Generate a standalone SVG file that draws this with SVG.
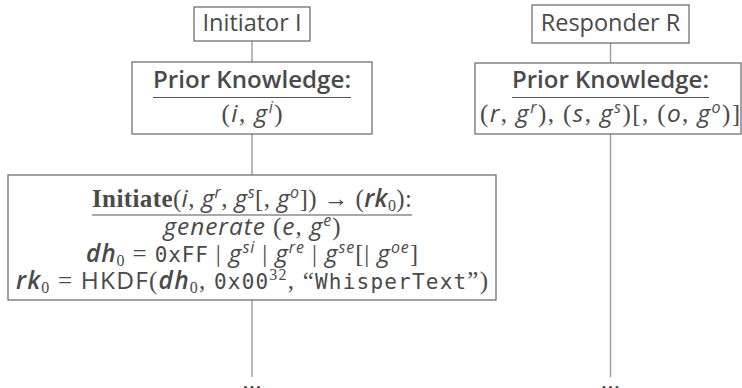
<svg xmlns="http://www.w3.org/2000/svg" width="742" height="388" viewBox="0 0 742 388">
  <style>
    .box { fill: #ffffff; stroke: #707070; stroke-width: 1.3; }
    .rule { stroke: #555555; stroke-width: 1.2; }
    .wire { stroke: #9a9a9a; stroke-width: 1.4; fill: none; }
    text { fill: #4a4a4a; font-family: "Open Sans", "Noto Sans", sans-serif; font-size: 24.5px; }
    .lbl { font-size: 23.5px; }
    .hd { font-weight: 600; font-size: 23.5px; }
    .b { font-family: "Liberation Serif", serif; font-weight: bold; font-size: 25px; }
    .s { font-family: "Liberation Serif", serif; font-size: 25px; }
    .m { font-style: italic; }
    .mb { font-style: italic; font-weight: 600; }
    .t { font-family: "DejaVu Sans Mono", "Liberation Mono", monospace; font-size: 21px; }
    .sup { font-size: 16px; }
  </style>

  <!-- lifelines -->
  <g id="connectors">
    <line class="wire" x1="252" y1="41" x2="252" y2="62"/>
    <line class="wire" x1="252" y1="134" x2="252" y2="175"/>
    <line class="wire" x1="252" y1="300" x2="252" y2="377"/>
    <line class="wire" x1="610.5" y1="43" x2="610.5" y2="63"/>
    <line class="wire" x1="610.5" y1="134" x2="610.5" y2="377"/>
  </g>

  <g id="initiator">
    <rect class="box" x="194" y="7" width="116" height="34"/>
    <text class="lbl" x="252" y="30.5" text-anchor="middle">Initiator I</text>
  </g>

  <g id="responder">
    <rect class="box" x="532" y="5" width="157" height="38"/>
    <text class="lbl" x="610.5" y="30.5" text-anchor="middle">Responder R</text>
  </g>

  <g id="initiator-knowledge">
    <rect class="box" x="132" y="62" width="240" height="72"/>
    <text class="hd" x="252" y="88" text-anchor="middle" textLength="198" lengthAdjust="spacingAndGlyphs">Prior Knowledge:</text>
    <line class="rule" x1="153" y1="97.5" x2="351" y2="97.5"/>
    <text x="252" y="122" text-anchor="middle" textLength="61"><tspan class="s">(</tspan><tspan class="m">i</tspan><tspan class="s">, </tspan><tspan class="m">g</tspan><tspan class="m sup" dy="-9">i</tspan><tspan class="s" dy="9">)</tspan></text>
  </g>

  <g id="responder-knowledge">
    <rect class="box" x="475" y="63" width="266" height="71"/>
    <text class="hd" x="610.5" y="88" text-anchor="middle" textLength="197" lengthAdjust="spacingAndGlyphs">Prior Knowledge:</text>
    <line class="rule" x1="512" y1="97.5" x2="709" y2="97.5"/>
    <text x="610" y="122" text-anchor="middle" textLength="260"><tspan class="s">(</tspan><tspan class="m">r</tspan><tspan class="s">, </tspan><tspan class="m">g</tspan><tspan class="m sup" dy="-9">r</tspan><tspan class="s" dy="9">), (</tspan><tspan class="m">s</tspan><tspan class="s">, </tspan><tspan class="m">g</tspan><tspan class="m sup" dy="-9">s</tspan><tspan class="s" dy="9">)[, (</tspan><tspan class="m">o</tspan><tspan class="s">, </tspan><tspan class="m">g</tspan><tspan class="m sup" dy="-9">o</tspan><tspan class="s" dy="9">)]</tspan></text>
  </g>

  <g id="initiate">
    <rect class="box" x="8" y="175" width="488" height="125"/>
    <text x="252" y="207" text-anchor="middle" textLength="320"><tspan class="b">Initiate</tspan><tspan class="s">(</tspan><tspan class="m">i</tspan><tspan class="s">, </tspan><tspan class="m">g</tspan><tspan class="m sup" dy="-9">r</tspan><tspan class="s" dy="9">, </tspan><tspan class="m">g</tspan><tspan class="m sup" dy="-9">s</tspan><tspan class="s" dy="9">[, </tspan><tspan class="m">g</tspan><tspan class="m sup" dy="-9">o</tspan><tspan class="s" dy="9">]) → (</tspan><tspan class="mb">rk</tspan><tspan class="s sup" dy="4">0</tspan><tspan class="s" dy="-4">):</tspan></text>
    <line class="rule" x1="92" y1="215" x2="412" y2="215"/>
    <text x="252" y="235" text-anchor="middle" textLength="177"><tspan class="m">generate </tspan><tspan class="s">(</tspan><tspan class="m">e</tspan><tspan class="s">, </tspan><tspan class="m">g</tspan><tspan class="m sup" dy="-9">e</tspan><tspan class="s" dy="9">)</tspan></text>
    <text x="252" y="262" text-anchor="middle" textLength="332"><tspan class="mb">dh</tspan><tspan class="s sup" dy="4">0</tspan><tspan class="s" dy="-4"> = </tspan><tspan class="t">0xFF</tspan><tspan class="s"> | </tspan><tspan class="m">g</tspan><tspan class="m sup" dy="-9">si</tspan><tspan class="s" dy="9"> | </tspan><tspan class="m">g</tspan><tspan class="m sup" dy="-9">re</tspan><tspan class="s" dy="9"> | </tspan><tspan class="m">g</tspan><tspan class="m sup" dy="-9">se</tspan><tspan class="s" dy="9">[| </tspan><tspan class="m">g</tspan><tspan class="m sup" dy="-9">oe</tspan><tspan class="s" dy="9">]</tspan></text>
    <text x="252" y="289" text-anchor="middle" textLength="472"><tspan class="mb">rk</tspan><tspan class="s sup" dy="4">0</tspan><tspan class="s" dy="-4"> = </tspan><tspan>HKDF</tspan><tspan class="s">(</tspan><tspan class="mb">dh</tspan><tspan class="s sup" dy="4">0</tspan><tspan class="s" dy="-4">, </tspan><tspan class="t">0x00</tspan><tspan class="s sup" dy="-9">32</tspan><tspan class="s" dy="9">, “</tspan><tspan class="t">WhisperText</tspan><tspan class="s">”)</tspan></text>
  </g>

  <!-- continuation marks -->
  <text x="252" y="389" text-anchor="middle" font-size="20">...</text>
  <text x="610.5" y="389" text-anchor="middle" font-size="20">...</text>
</svg>
